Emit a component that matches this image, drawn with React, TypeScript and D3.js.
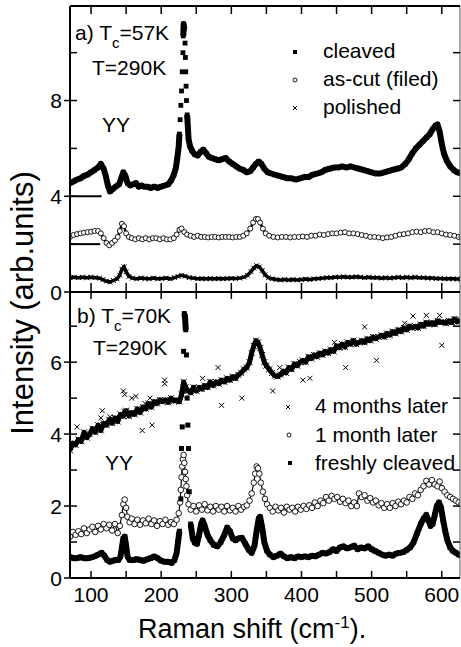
import React from 'react';
import * as d3 from 'd3';

type Pt = [number, number];

// ---- panel a) Tc=57K, T=290K ----
const cleavedA: Pt[] = [
  [70, 4.55], [75, 4.62], [80, 4.7], [85, 4.75], [90, 4.85], [95, 4.9], [100, 5.0], [105, 5.1], [110, 5.2], [114, 5.35],
  [118, 5.15], [121, 4.85], [124, 4.45], [127, 4.2], [131, 4.3], [135, 4.4], [140, 4.5], [143, 4.75], [146, 5.0], [149, 4.85],
  [152, 4.55], [156, 4.45], [160, 4.5], [164, 4.55], [168, 4.4], [172, 4.45], [176, 4.4], [180, 4.4], [185, 4.35], [190, 4.4],
  [195, 4.35], [200, 4.4], [205, 4.45], [210, 4.5], [214, 4.65], [218, 4.9], [221, 5.2], [223, 5.6], [225, 6.1], [226, 6.6],
  [227, 7.2], [228, 7.8], [229, 8.4], [230, 9.2], [231, 10.0], [231.5, 10.7], [232, 11.2], [233, 11.0], [234, 10.4], [234.5, 9.8],
  [235, 9.2], [235.5, 8.6], [236, 8.0], [237, 7.4], [238, 6.9], [239, 6.4], [241, 6.1], [244, 5.9], [248, 5.75], [252, 5.7],
  [256, 5.85], [260, 5.95], [264, 5.8], [268, 5.65], [272, 5.6], [277, 5.55], [282, 5.5], [287, 5.55], [292, 5.6], [297, 5.45],
  [302, 5.35], [307, 5.25], [312, 5.15], [317, 5.1], [322, 5.0], [327, 5.05], [331, 5.2], [335, 5.35], [339, 5.45], [343, 5.35],
  [347, 5.15], [352, 5.0], [357, 4.95], [362, 4.9], [368, 4.85], [374, 4.8], [380, 4.75], [386, 4.75], [392, 4.7], [398, 4.75],
  [404, 4.8], [410, 4.8], [416, 4.9], [422, 4.95], [428, 5.0], [434, 5.1], [440, 5.15], [446, 5.2], [452, 5.2], [458, 5.25],
  [464, 5.2], [470, 5.25], [476, 5.2], [482, 5.15], [488, 5.1], [494, 5.05], [500, 5.0], [506, 4.95], [512, 4.95], [518, 5.0],
  [524, 5.05], [530, 5.1], [536, 5.15], [542, 5.2], [548, 5.35], [553, 5.55], [558, 5.8], [563, 6.0], [568, 6.15], [573, 6.3],
  [578, 6.45], [583, 6.6], [587, 6.8], [591, 6.95], [594, 7.0], [597, 6.7], [600, 6.2], [603, 5.8], [607, 5.5], [612, 5.25],
  [617, 5.1], [622, 5.0], [628, 4.95],
];

const asCutA: Pt[] = [
  [70, 2.3], [75, 2.38], [80, 2.42], [85, 2.45], [90, 2.48], [95, 2.5], [100, 2.52], [105, 2.55], [110, 2.55], [114, 2.45],
  [118, 2.25], [122, 2.05], [126, 1.95], [130, 2.05], [134, 2.15], [138, 2.3], [141, 2.55], [144, 2.85], [147, 2.75], [150, 2.45],
  [154, 2.3], [158, 2.25], [163, 2.2], [168, 2.25], [173, 2.2], [178, 2.25], [183, 2.2], [188, 2.25], [193, 2.25], [198, 2.2],
  [203, 2.25], [208, 2.2], [213, 2.2], [218, 2.25], [222, 2.4], [226, 2.6], [229, 2.65], [233, 2.5], [237, 2.4], [242, 2.35],
  [247, 2.3], [252, 2.35], [257, 2.3], [262, 2.3], [267, 2.28], [272, 2.3], [277, 2.3], [282, 2.28], [287, 2.3], [292, 2.3],
  [297, 2.3], [302, 2.28], [307, 2.3], [312, 2.3], [317, 2.35], [322, 2.45], [327, 2.65], [331, 2.9], [335, 3.05], [338, 3.05],
  [341, 2.9], [345, 2.65], [349, 2.45], [354, 2.35], [360, 2.3], [366, 2.28], [372, 2.3], [378, 2.3], [384, 2.28], [390, 2.3],
  [396, 2.3], [402, 2.32], [408, 2.3], [414, 2.35], [420, 2.35], [426, 2.4], [432, 2.38], [438, 2.42], [444, 2.45], [450, 2.45],
  [456, 2.48], [462, 2.5], [468, 2.45], [474, 2.45], [480, 2.42], [486, 2.38], [492, 2.35], [498, 2.3], [504, 2.3], [510, 2.28],
  [516, 2.25], [522, 2.28], [528, 2.3], [534, 2.35], [540, 2.4], [546, 2.42], [552, 2.45], [558, 2.5], [564, 2.52], [570, 2.5],
  [576, 2.55], [582, 2.55], [588, 2.5], [594, 2.5], [600, 2.45], [606, 2.4], [612, 2.38], [618, 2.35], [624, 2.3], [628, 2.3],
];

const polishedA: Pt[] = [
  [70, 0.6], [76, 0.62], [82, 0.6], [88, 0.62], [94, 0.6], [100, 0.62], [106, 0.6], [112, 0.58], [117, 0.52], [122, 0.45],
  [127, 0.42], [132, 0.48], [137, 0.55], [141, 0.7], [144, 0.95], [147, 1.05], [150, 0.85], [154, 0.65], [159, 0.58], [165, 0.55],
  [171, 0.58], [177, 0.56], [183, 0.55], [189, 0.58], [195, 0.55], [201, 0.56], [207, 0.58], [213, 0.55], [219, 0.6], [224, 0.65],
  [229, 0.7], [234, 0.66], [240, 0.6], [246, 0.58], [252, 0.55], [258, 0.56], [264, 0.55], [270, 0.56], [276, 0.55], [282, 0.56],
  [288, 0.55], [294, 0.56], [300, 0.57], [306, 0.56], [312, 0.58], [318, 0.62], [323, 0.7], [328, 0.85], [332, 1.0], [336, 1.1],
  [340, 1.05], [344, 0.9], [348, 0.72], [353, 0.6], [358, 0.55], [364, 0.52], [370, 0.5], [376, 0.52], [382, 0.5], [388, 0.52],
  [394, 0.5], [400, 0.52], [406, 0.54], [412, 0.52], [418, 0.55], [424, 0.56], [430, 0.58], [436, 0.6], [442, 0.6], [448, 0.62],
  [454, 0.62], [460, 0.64], [466, 0.62], [472, 0.62], [478, 0.64], [484, 0.62], [490, 0.6], [496, 0.62], [502, 0.6], [508, 0.6],
  [514, 0.58], [520, 0.6], [526, 0.58], [532, 0.6], [538, 0.62], [544, 0.6], [550, 0.62], [556, 0.6], [562, 0.62], [568, 0.6],
  [574, 0.6], [580, 0.58], [586, 0.58], [592, 0.56], [598, 0.56], [604, 0.55], [610, 0.55], [616, 0.55], [622, 0.54], [628, 0.54],
];

// short zero-level bars for the offset curves in panel a)
const offsetLevelsA = [4, 2];
const offsetBarEnd = [115, 113];

// ---- panel b) Tc=70K, T=290K ----
const fourMonths: Pt[] = [
  [70, 3.55], [74, 3.75], [78, 3.7], [82, 3.85], [86, 3.8], [90, 4.05], [94, 3.9], [98, 4.0], [102, 4.15], [106, 4.05],
  [110, 4.25], [114, 4.1], [118, 4.3], [122, 4.25], [126, 4.4], [130, 4.3], [134, 4.45], [138, 4.35], [142, 4.55], [146, 4.5],
  [148, 4.62], [150, 4.65], [154, 4.5], [158, 4.6], [162, 4.55], [166, 4.7], [170, 4.6], [174, 4.75], [178, 4.7], [182, 4.85],
  [186, 4.75], [190, 4.9], [194, 4.85], [198, 4.95], [202, 4.9], [206, 4.95], [210, 4.88], [214, 5.0], [218, 4.92], [222, 4.95],
  [226, 4.9], [229, 5.1], [232, 5.45], [235, 5.3], [238, 5.2], [242, 5.15], [246, 5.3], [250, 5.2], [254, 5.3], [258, 5.25],
  [262, 5.35], [266, 5.3], [270, 5.45], [274, 5.35], [278, 5.45], [282, 5.4], [286, 5.5], [290, 5.45], [294, 5.55], [298, 5.5],
  [302, 5.6], [306, 5.55], [310, 5.65], [314, 5.7], [318, 5.8], [322, 5.85], [326, 6.0], [329, 6.25], [332, 6.45], [335, 6.6],
  [338, 6.55], [341, 6.4], [344, 6.2], [347, 6.0], [350, 5.9], [354, 5.8], [358, 5.7], [362, 5.62], [366, 5.6], [370, 5.65],
  [374, 5.75], [378, 5.7], [382, 5.85], [386, 5.8], [390, 5.95], [394, 5.9], [398, 6.0], [402, 6.05], [406, 6.0], [410, 6.15],
  [414, 6.1], [418, 6.2], [422, 6.15], [426, 6.25], [430, 6.2], [434, 6.3], [438, 6.25], [442, 6.35], [446, 6.3], [450, 6.45],
  [454, 6.4], [458, 6.5], [462, 6.42], [466, 6.55], [470, 6.5], [474, 6.6], [478, 6.5], [482, 6.55], [486, 6.6], [490, 6.55],
  [494, 6.65], [498, 6.6], [502, 6.7], [506, 6.65], [510, 6.7], [514, 6.75], [518, 6.7], [522, 6.8], [526, 6.75], [530, 6.85],
  [534, 6.8], [538, 6.9], [542, 6.85], [546, 6.95], [550, 6.9], [554, 7.0], [558, 6.95], [562, 7.0], [566, 6.95], [570, 7.05],
  [574, 7.0], [578, 7.1], [582, 7.05], [586, 7.1], [590, 7.05], [594, 7.15], [598, 7.1], [602, 7.12], [606, 7.08], [610, 7.15],
  [614, 7.1], [618, 7.2], [622, 7.12], [626, 7.18],
];

// isolated crosses lying off the main band
const fourMonthsStray: Pt[] = [
  [80, 4.2], [114, 4.45], [116, 4.65], [127, 4.48], [146, 5.2], [148, 5.1], [158, 5.0], [164, 5.05], [173, 4.1], [177, 4.85],
  [184, 5.0], [187, 4.25], [205, 5.5], [205, 5.4], [259, 5.55], [281, 5.85], [286, 4.8], [315, 5.0], [359, 5.2], [369, 5.85],
  [402, 5.5], [412, 5.55], [447, 6.55], [463, 5.85], [490, 6.98], [507, 6.05], [547, 7.08], [559, 7.28], [578, 7.3], [597, 7.3],
  [600, 6.47],
];

const oneMonth: Pt[] = [
  [70, 1.15], [74, 1.28], [78, 1.2], [82, 1.3], [86, 1.22], [90, 1.38], [94, 1.25], [98, 1.35], [102, 1.42], [106, 1.28],
  [110, 1.45], [114, 1.35], [118, 1.5], [122, 1.38], [126, 1.48], [130, 1.32], [134, 1.5], [138, 1.25], [141, 1.45], [144, 1.75],
  [146, 2.05], [148, 2.18], [150, 1.95], [152, 1.7], [155, 1.55], [158, 1.65], [162, 1.5], [166, 1.62], [170, 1.48], [174, 1.6],
  [178, 1.52], [182, 1.65], [186, 1.5], [190, 1.6], [194, 1.45], [198, 1.58], [202, 1.5], [206, 1.62], [210, 1.48], [214, 1.55],
  [218, 1.5], [222, 1.62], [225, 1.8], [227, 2.1], [228, 2.45], [229, 2.8], [230, 3.1], [231, 3.3], [232, 3.42], [233, 3.2],
  [234, 2.95], [235, 2.75], [236, 2.55], [237, 2.3], [239, 2.05], [242, 1.9], [246, 2.0], [250, 1.85], [254, 2.02], [258, 1.9],
  [262, 2.05], [266, 1.88], [270, 1.98], [274, 1.85], [278, 2.0], [282, 1.9], [286, 1.98], [290, 1.85], [294, 2.0], [298, 1.88],
  [302, 1.95], [306, 1.85], [310, 2.0], [314, 1.9], [318, 1.98], [322, 2.02], [326, 2.15], [329, 2.35], [332, 2.65], [334, 2.9],
  [336, 3.1], [338, 3.05], [340, 2.9], [342, 2.65], [345, 2.4], [348, 2.2], [351, 2.05], [355, 1.95], [359, 1.85], [363, 1.98],
  [367, 1.88], [371, 1.95], [375, 1.82], [379, 1.98], [383, 1.9], [387, 1.95], [391, 1.85], [395, 1.98], [399, 1.9], [403, 2.0],
  [407, 1.92], [411, 2.02], [415, 1.95], [419, 2.1], [423, 2.0], [427, 2.15], [431, 2.08], [435, 2.25], [439, 2.15], [443, 2.28],
  [447, 2.2], [451, 2.25], [455, 2.12], [459, 2.2], [463, 2.08], [467, 2.15], [471, 2.0], [475, 2.1], [479, 2.0], [482, 2.35],
  [486, 2.25], [490, 2.3], [494, 2.15], [498, 2.22], [502, 2.1], [506, 2.15], [510, 2.02], [514, 2.08], [518, 1.95], [522, 2.05],
  [526, 1.95], [530, 2.08], [534, 2.0], [538, 2.12], [542, 2.05], [546, 2.15], [550, 2.1], [554, 2.25], [558, 2.2], [562, 2.35],
  [566, 2.3], [570, 2.45], [574, 2.55], [578, 2.7], [582, 2.6], [586, 2.72], [590, 2.6], [594, 2.55], [597, 2.68], [600, 2.5],
  [604, 2.4], [608, 2.3], [612, 2.25], [616, 2.2], [620, 2.15], [624, 2.1], [628, 2.05],
];

const freshB: Pt[] = [
  [70, 0.58], [75, 0.55], [80, 0.55], [85, 0.58], [90, 0.55], [95, 0.55], [100, 0.57], [105, 0.6], [110, 0.65], [115, 0.7],
  [119, 0.62], [123, 0.5], [127, 0.45], [131, 0.48], [135, 0.5], [139, 0.5], [142, 0.6], [144, 0.85], [146, 1.1], [148, 1.15],
  [150, 0.9], [152, 0.6], [155, 0.5], [160, 0.5], [165, 0.52], [170, 0.5], [175, 0.48], [180, 0.52], [185, 0.55], [190, 0.6],
  [195, 0.55], [200, 0.48], [205, 0.45], [210, 0.45], [215, 0.42], [219, 0.5], [222, 0.7], [224, 1.0], [226, 1.3], [228, 2.2],
  [229, 3.6], [230, 4.2], [231, 5.2], [232, 6.3], [233, 7.35], [234, 7.25], [235, 6.9], [236, 6.2], [237, 5.0], [238, 4.25],
  [239, 3.6], [240, 2.4], [242, 1.5], [245, 1.1], [248, 0.98], [251, 0.95], [254, 1.2], [257, 1.5], [259, 1.6], [262, 1.45],
  [266, 1.2], [270, 1.05], [275, 0.92], [280, 0.88], [285, 1.0], [290, 1.2], [294, 1.4], [298, 1.3], [302, 1.1], [306, 1.05],
  [310, 1.1], [315, 1.12], [320, 0.95], [325, 0.78], [329, 0.7], [333, 0.9], [336, 1.3], [339, 1.65], [341, 1.7], [344, 1.4],
  [347, 1.0], [351, 0.75], [355, 0.65], [360, 0.58], [365, 0.62], [370, 0.68], [375, 0.6], [380, 0.55], [385, 0.58], [390, 0.55],
  [395, 0.6], [400, 0.58], [405, 0.6], [410, 0.58], [415, 0.62], [420, 0.6], [425, 0.65], [430, 0.7], [435, 0.68], [440, 0.72],
  [445, 0.8], [450, 0.75], [455, 0.85], [460, 0.88], [465, 0.82], [470, 0.85], [475, 0.9], [480, 0.8], [485, 0.85], [490, 0.82],
  [495, 0.88], [500, 0.8], [505, 0.75], [510, 0.7], [515, 0.65], [520, 0.62], [525, 0.65], [530, 0.62], [535, 0.68], [540, 0.7],
  [545, 0.72], [550, 0.78], [555, 0.85], [560, 1.0], [565, 1.25], [570, 1.5], [574, 1.65], [578, 1.75], [581, 1.6], [584, 1.45],
  [587, 1.5], [590, 1.75], [593, 2.0], [596, 2.1], [599, 1.95], [602, 1.6], [605, 1.3], [608, 1.05], [612, 0.85], [616, 0.75],
  [620, 0.7], [624, 0.65], [628, 0.62],
];

const xTickLabels = [100, 200, 300, 400, 500, 600];
const yTickLabelsA = [0, 4, 8];
const yTickLabelsB = [0, 2, 4, 6];
const legendA = ['cleaved', 'as-cut (filed)', 'polished'];
const legendB = ['4 months later', '1 month later', 'freshly cleaved'];

const W = 461;
const H = 647;
const L = 70, R = 460, T = 6, M = 292, B = 578;
const FONT = '"Liberation Sans", Arial, Helvetica, sans-serif';

const x = d3.scaleLinear().domain([70, 626]).range([L, R]);
const yA = d3.scaleLinear().domain([0, 11.95]).range([M, T]);
const yB = d3.scaleLinear().domain([0, 7.95]).range([B, M]);

// break a trace where neighbouring points are far apart in pixels, so steep peaks stay dotted
function bandPaths(data: Pt[], y: d3.ScaleLinear<number, number>, maxGap: number) {
  const line = d3.line<Pt>().x(d => x(d[0])).y(d => y(d[1]));
  const segs: Pt[][] = [];
  let cur: Pt[] = [];
  data.forEach((d, i) => {
    if (i > 0) {
      const p = data[i - 1];
      const dist = Math.hypot(x(d[0]) - x(p[0]), y(d[1]) - y(p[1]));
      if (dist > maxGap) {
        if (cur.length > 1) segs.push(cur);
        cur = [];
      }
    }
    cur.push(d);
  });
  if (cur.length > 1) segs.push(cur);
  return segs.map(s => line(s) as string);
}

function crossPath(pts: [number, number][], a: number) {
  return pts.map(([px, py]) => `M${px - a},${py - a}L${px + a},${py + a}M${px - a},${py + a}L${px + a},${py - a}`).join('');
}

const Squares = ({ data, y, s }: { data: Pt[]; y: any; s: number }) => (
  <g fill="#000">
    {data.map((d, i) => <rect key={i} x={x(d[0]) - s / 2} y={y(d[1]) - s / 2} width={s} height={s} />)}
  </g>
);

const Circles = ({ data, y, r }: { data: Pt[]; y: any; r: number }) => (
  <g fill="#fff" stroke="#000" strokeWidth={0.9}>
    {data.map((d, i) => <circle key={i} cx={x(d[0])} cy={y(d[1])} r={r} />)}
  </g>
);

const Crosses = ({ data, y, a, w }: { data: Pt[]; y: any; a: number; w: number }) => (
  <path d={crossPath(data.map(d => [x(d[0]), y(d[1])]), a)} stroke="#000" strokeWidth={w} fill="none" />
);

export default function App() {
  const xTicks = d3.range(100, 626, 50);
  const yTicksA = d3.range(0, 12, 2);
  const yTicksB = d3.range(0, 8, 1);

  return (
    <svg width={W} height={H} style={{ position: 'absolute', left: 0, top: 0, background: '#fff' }} fontFamily={FONT}>
      <defs>
        <clipPath id="clipA"><rect x={L} y={T} width={R - L} height={M - T} /></clipPath>
        <clipPath id="clipB"><rect x={L} y={M} width={R - L} height={B - M} /></clipPath>
      </defs>
      <rect width={W} height={H} fill="#fff" />

      {/* panel a */}
      <g clipPath="url(#clipA)">
        {bandPaths(cleavedA, yA, 13).map((d, i) => (
          <path key={i} d={d} fill="none" stroke="#000" strokeWidth={6} strokeLinejoin="round" />
        ))}
        <Squares data={cleavedA} y={yA} s={4.8} />
        {bandPaths(asCutA, yA, 14).map((d, i) => (
          <path key={i} d={d} fill="none" stroke="#000" strokeWidth={2.5} />
        ))}
        <Circles data={asCutA} y={yA} r={2.5} />
        {bandPaths(polishedA, yA, 14).map((d, i) => (
          <path key={i} d={d} fill="none" stroke="#000" strokeWidth={3.5} />
        ))}
        <Crosses data={polishedA} y={yA} a={2.4} w={1} />
        {offsetLevelsA.map((v, i) => (
          <line key={i} x1={L} x2={x(offsetBarEnd[i])} y1={yA(v)} y2={yA(v)} stroke="#000" strokeWidth={2} />
        ))}
      </g>

      {/* panel b */}
      <g clipPath="url(#clipB)">
        {bandPaths(fourMonths, yB, 20).map((d, i) => (
          <path key={i} d={d} fill="none" stroke="#000" strokeWidth={5} strokeLinejoin="round" />
        ))}
        <Crosses data={fourMonths} y={yB} a={3} w={1} />
        <Crosses data={fourMonthsStray} y={yB} a={2.5} w={1} />
        {bandPaths(oneMonth, yB, 14).map((d, i) => (
          <path key={i} d={d} fill="none" stroke="#000" strokeWidth={1.2} />
        ))}
        <Circles data={oneMonth} y={yB} r={2.8} />
        {bandPaths(freshB, yB, 20).map((d, i) => (
          <path key={i} d={d} fill="none" stroke="#000" strokeWidth={6} strokeLinejoin="round" />
        ))}
        <Squares data={freshB} y={yB} s={5} />
      </g>

      {/* frame */}
      <g stroke="#000" fill="none">
        <line x1={L} x2={L} y1={T} y2={B} strokeWidth={2} />
        <line x1={R} x2={R} y1={T} y2={B} strokeWidth={1} stroke="#555" />
        <line x1={L} x2={R} y1={T} y2={T} strokeWidth={2} />
        <line x1={L} x2={R} y1={M} y2={M} strokeWidth={2} />
        <line x1={L} x2={R} y1={B} y2={B} strokeWidth={2} />
      </g>

      {/* x ticks: top, middle (both ways), bottom */}
      <g stroke="#000" strokeWidth={1.5}>
        {xTicks.map(t => (
          <g key={t}>
            <line x1={x(t)} x2={x(t)} y1={T} y2={T + 8} />
            <line x1={x(t)} x2={x(t)} y1={M - 9} y2={M + 7} />
            <line x1={x(t)} x2={x(t)} y1={B - 7} y2={B} />
          </g>
        ))}
      </g>

      {/* y ticks */}
      <g stroke="#000" strokeWidth={1.5}>
        {yTicksA.map(t => (
          <g key={'a' + t}>
            <line x1={yTickLabelsA.includes(t) ? L - 6 : L} x2={L + 7} y1={yA(t)} y2={yA(t)} />
            <line x1={R - 7} x2={R} y1={yA(t)} y2={yA(t)} />
          </g>
        ))}
        {yTicksB.map(t => (
          <g key={'b' + t}>
            <line x1={yTickLabelsB.includes(t) ? L - 6 : L} x2={L + 7} y1={yB(t)} y2={yB(t)} />
            <line x1={R - 7} x2={R} y1={yB(t)} y2={yB(t)} />
          </g>
        ))}
      </g>

      {/* tick labels */}
      <g fontSize={21} fill="#000">
        {yTickLabelsA.map(t => (
          <text key={'la' + t} x={L - 8} y={yA(t)} dy="0.36em" textAnchor="end">{t}</text>
        ))}
        {yTickLabelsB.map(t => (
          <text key={'lb' + t} x={L - 8} y={yB(t)} dy="0.36em" textAnchor="end">{t}</text>
        ))}
        {xTickLabels.map(t => (
          <text key={'lx' + t} x={x(t)} y={602} textAnchor="middle">{t}</text>
        ))}
      </g>

      {/* axis titles */}
      <text x={138} y={638} fontSize={27} fill="#000">
        Raman shift (cm<tspan fontSize={17} dy={-10}>-1</tspan><tspan dy={10}>).</tspan>
      </text>
      <text transform="translate(33,303) rotate(-90)" textAnchor="middle" fontSize={31} fill="#000">
        Intensity (arb.units)
      </text>

      {/* panel annotations and legends */}
      <g fontSize={21} fill="#000">
        <text x={75} y={40}>a) T<tspan fontSize={15} dy={8}>c</tspan><tspan dy={-8}>=57K</tspan></text>
        <text x={92} y={75}>T=290K</text>
        <text x={102} y={132}>YY</text>
        {legendA.map((s, i) => (
          <text key={s} x={323} y={58 + i * 28}>{s}</text>
        ))}
        <text x={77} y={323}>b) T<tspan fontSize={15} dy={8}>c</tspan><tspan dy={-8}>=70K</tspan></text>
        <text x={93} y={355}>T=290K</text>
        <text x={105} y={470}>YY</text>
        {legendB.map((s, i) => (
          <text key={s} x={315} y={413 + i * 28.5}>{s}</text>
        ))}
      </g>

      {/* legend markers */}
      <rect x={293} y={50} width={4} height={4} fill="#000" />
      <circle cx={295} cy={80} r={2} fill="#fff" stroke="#000" strokeWidth={0.9} />
      <path d={crossPath([[295, 108]], 2)} stroke="#000" strokeWidth={1} />
      <path d={crossPath([[288, 407]], 2)} stroke="#000" strokeWidth={1} />
      <circle cx={289} cy={435} r={2} fill="#fff" stroke="#000" strokeWidth={0.9} />
      <rect x={288} y={461} width={4} height={4} fill="#000" />
    </svg>
  );
}
